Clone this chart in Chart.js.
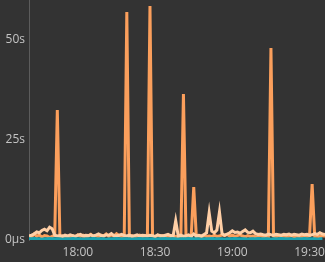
<!DOCTYPE html>
<html lang="en">
<head>
  <meta charset="UTF-8" />
  <title>Latency</title>
  <script src="https://cdn.jsdelivr.net/npm/chart.js"></script>
  <style>
    body { margin: 0; padding: 0; background: #333333; }
    .wrap { width: 325px; height: 262px; }
  </style>
</head>
<body>
  <div class="wrap"><canvas id="chart"></canvas></div>
  <script>
    // one sample per minute, starting 17:41 (minutes since midnight)
    const START = 1061;
    const xTicks = [1080, 1110, 1140, 1170];
    const yTicks = [0, 25, 50];

    // seconds
    const orange = [
      1.2, 0.8, 1.5, 0.9, 1.3, 0.7, 1.1, 1.0, 0.6, 0.9, 1.2,
      32.5,
      0.8, 1.0, 0.6, 0.9, 0.7, 1.1, 0.8, 1.3, 0.9, 1.2, 0.8, 1.0, 1.4,
      0.9, 1.1, 0.8, 1.2, 1.0, 1.5, 0.9, 1.3, 1.0, 1.6, 1.1, 0.9, 1.0,
      57,
      0.9, 1.1, 0.8, 1.0, 1.2, 0.9, 1.0, 1.1,
      58.5,
      1.0, 0.8, 1.2, 0.9, 1.1, 0.8, 1.0, 0.9, 1.2, 0.8, 1.0, 0.9,
      36.5,
      0.9, 1.0, 0.8,
      13.2,
      0.9, 1.0, 0.8, 1.1, 0.9, 1.0, 0.8, 1.2, 0.9, 1.0, 1.3, 1.1, 1.4, 1.0,
      1.2, 0.9, 1.1, 1.3, 1.0, 0.8, 1.1, 0.9, 1.0, 0.8, 0.9, 1.1, 0.8, 1.0, 0.9,
      48,
      1.0, 0.8, 1.1, 0.9, 1.0, 0.8, 0.9, 1.1, 0.8, 1.0, 0.9, 0.8, 1.0, 0.9, 1.1,
      14,
      0.9, 1.0, 0.8, 1.1, 0.9
    ];
    const peach = [
      1.0, 1.2, 1.5, 2.0, 1.8, 2.4, 2.7, 2.3, 3.2, 2.8, 1.2,
      1.0,
      1.1, 0.9, 1.2, 1.0, 1.3, 1.1, 0.9, 1.2, 1.4, 1.0, 1.2, 1.1, 1.3,
      1.0, 1.2, 1.5, 1.1, 1.0, 1.3, 1.2, 1.6, 1.1, 1.0, 1.2, 1.4, 1.1,
      1.0, 1.2, 0.9, 1.1, 1.3, 1.0, 1.2, 1.1,
      1.0, 1.2, 1.1, 0.9, 1.3, 1.1, 1.0, 1.2, 1.4, 1.1, 1.0,
      4.8,
      1.0, 1.2, 0.9, 1.1, 1.3, 0.9, 1.5, 1.0, 1.2, 1.0, 1.4,
      1.8, 6.8, 2.2, 1.8, 2.5, 7.0, 1.6, 1.2,
      1.5, 1.8, 2.3, 1.9, 2.0, 1.7, 2.1, 2.5, 1.9, 1.8, 2.2, 1.6, 1.4, 1.5,
      1.3, 1.2, 1.5, 1.3, 1.2, 1.4, 1.3, 1.2, 1.4, 1.3, 1.5, 1.2, 1.4, 1.3,
      1.2, 1.5, 1.3, 1.4, 1.2, 1.3, 1.6, 1.4, 1.8, 1.5, 1.4, 1.3
    ];
    const teal = [
      0.3, 0.3, 0.4, 0.3, 0.3, 0.2, 0.3, 0.3, 0.4, 0.3, 0.3,
      0.3, 0.3, 0.2, 0.3, 0.3, 0.3, 0.4, 0.3, 0.3, 0.3, 0.2, 0.3, 0.3,
      0.3, 0.4, 0.3, 0.3, 0.3, 0.3, 0.2, 0.3, 0.3, 0.3, 0.4, 0.3, 0.3,
      0.3, 0.3, 0.3, 0.2, 0.3, 0.3, 0.4, 0.3, 0.3, 0.3, 0.3, 0.3, 0.2,
      0.3, 0.3, 0.3, 0.4, 0.3, 0.3, 0.3, 0.3, 0.2, 0.3, 0.3, 0.3, 0.4,
      0.3, 0.3, 0.3, 0.3, 0.2, 0.3, 0.3, 0.3, 0.4, 0.3, 0.3, 0.3, 0.3,
      0.2, 0.3, 0.3, 0.3, 0.4, 0.3, 0.3, 0.3, 0.3, 0.2, 0.3, 0.3, 0.3,
      0.4, 0.3, 0.3, 0.3, 0.3, 0.2, 0.3, 0.3, 0.3, 0.4, 0.3, 0.3, 0.3,
      0.3, 0.2, 0.3, 0.3, 0.3, 0.4, 0.3, 0.3, 0.3, 0.3, 0.2, 0.3, 0.3
    ];
    const times = orange.map((v, i) => START + i);

    const pad = n => String(n).padStart(2, '0');
    const hhmm = m => pad(Math.floor(m / 60)) + ':' + pad(m % 60);

    const line = (data, color, order) => ({
      data: data,
      borderColor: color,
      borderWidth: 3,
      pointRadius: 0,
      tension: 0,
      fill: false,
      order: order
    });

    new Chart(document.getElementById('chart'), {
      type: 'line',
      data: {
        labels: times,
        datasets: [
          line(teal, '#1aa3b0', 1),
          line(peach, '#ffcfa6', 2),
          line(orange, '#fb9f5c', 3)
        ]
      },
      options: {
        responsive: true,
        maintainAspectRatio: false,
        animation: false,
        layout: { padding: 0 },
        plugins: { legend: { display: false }, tooltip: { enabled: false } },
        scales: {
          x: {
            type: 'linear',
            min: START,
            max: START + orange.length - 1,
            grid: { display: false, drawTicks: false },
            border: { display: false },
            afterBuildTicks: s => { s.ticks = xTicks.map(v => ({ value: v })); },
            afterFit: s => { s.height = 22; s.paddingLeft = 0; s.paddingRight = 0; },
            ticks: {
              color: '#c4c4c4',
              padding: 5,
              maxRotation: 0,
              autoSkip: false,
              font: { family: 'Open Sans', size: 12 },
              callback: v => hhmm(v)
            }
          },
          y: {
            min: 0,
            max: 60,
            grid: { display: false, drawTicks: false },
            border: { display: true, color: '#5c5c5c', width: 1 },
            afterBuildTicks: s => { s.ticks = yTicks.map(v => ({ value: v })); },
            afterFit: s => { s.width = 29; s.paddingTop = 0; s.paddingBottom = 0; },
            ticks: {
              color: '#c4c4c4',
              padding: 4,
              font: { family: 'Open Sans', size: 12 },
              callback: v => v === 0 ? '0μs' : v + 's'
            }
          }
        }
      }
    });
  </script>
</body>
</html>
